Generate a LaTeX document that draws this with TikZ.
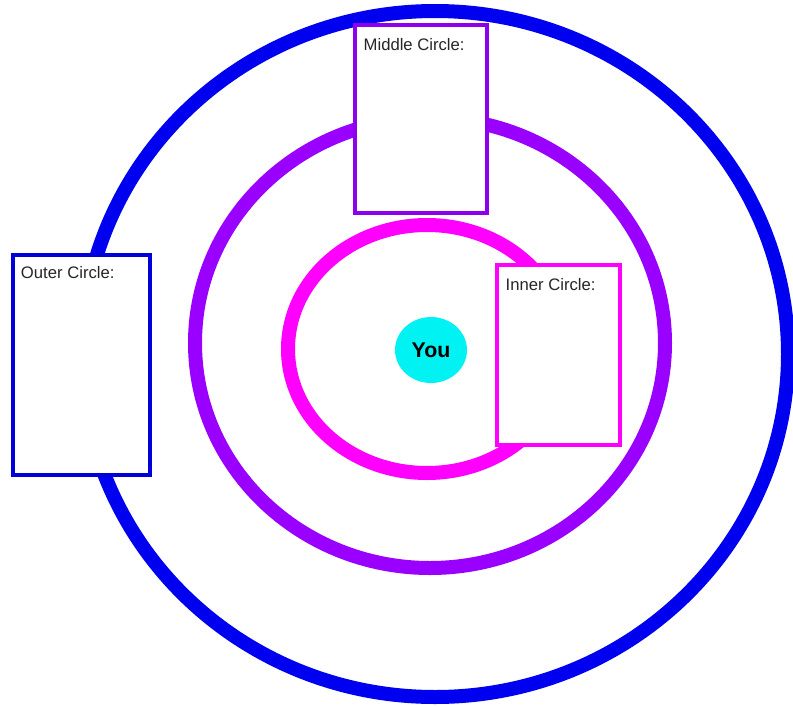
\documentclass[tikz,border=0pt]{standalone}
\usepackage{fontspec}
\setmainfont{Liberation Sans}
\usetikzlibrary{shapes.geometric}
\definecolor{outerring}{HTML}{0000F0}
\definecolor{middlering}{HTML}{9900FF}
\definecolor{innerring}{HTML}{FF00FF}
\definecolor{selffill}{HTML}{00F2F2}
\tikzset{
  ring/.style={line width=10.5pt},
  namebox/.style={
    draw,
    line width=2.4pt,
    fill=white,
    inner sep=0pt
  },
  boxlabel/.style={font=\fontsize{12.5}{15}\selectfont, text=black!85, anchor=base west, inner sep=0pt},
  self/.style={
    ellipse,
    fill=selffill,
    font=\fontsize{16}{19}\selectfont\bfseries,
    minimum width=54pt,
    minimum height=49.5pt,
    inner sep=0pt
  }
}

\begin{document}
\begin{tikzpicture}[x=0.75pt,y=-0.75pt]
\useasboundingbox (0,0) rectangle (793,707);

% rings
\draw[ring, draw=outerring] (435,354) ellipse [x radius=353, y radius=343];
\draw[ring, draw=middlering] (430,343) ellipse [x radius=235, y radius=225];
\draw[ring, draw=innerring] (427,349) ellipse [x radius=139, y radius=124];

% boxes
\node[namebox, draw=middlering!92!black, minimum width=99pt, minimum height=141pt] (midbox) at (421,119) {};
\node[namebox, draw=outerring!90!black, minimum width=102.75pt, minimum height=165pt] (outbox) at (81.5,365) {};
\node[namebox, draw=innerring, minimum width=92.25pt, minimum height=135pt] (inbox) at (558.5,355) {};

\node[boxlabel, xshift=7.5pt, yshift=-20pt] (midtext) at (midbox.north west) {Middle Circle:};
\node[boxlabel, xshift=7pt, yshift=-19pt] (outtext) at (outbox.north west) {Outer Circle:};
\node[boxlabel, xshift=7.5pt, yshift=-20pt] (intext) at (inbox.north west) {Inner Circle:};

\node[self] (you) at (431,350) {You};

\end{tikzpicture}
\end{document}
